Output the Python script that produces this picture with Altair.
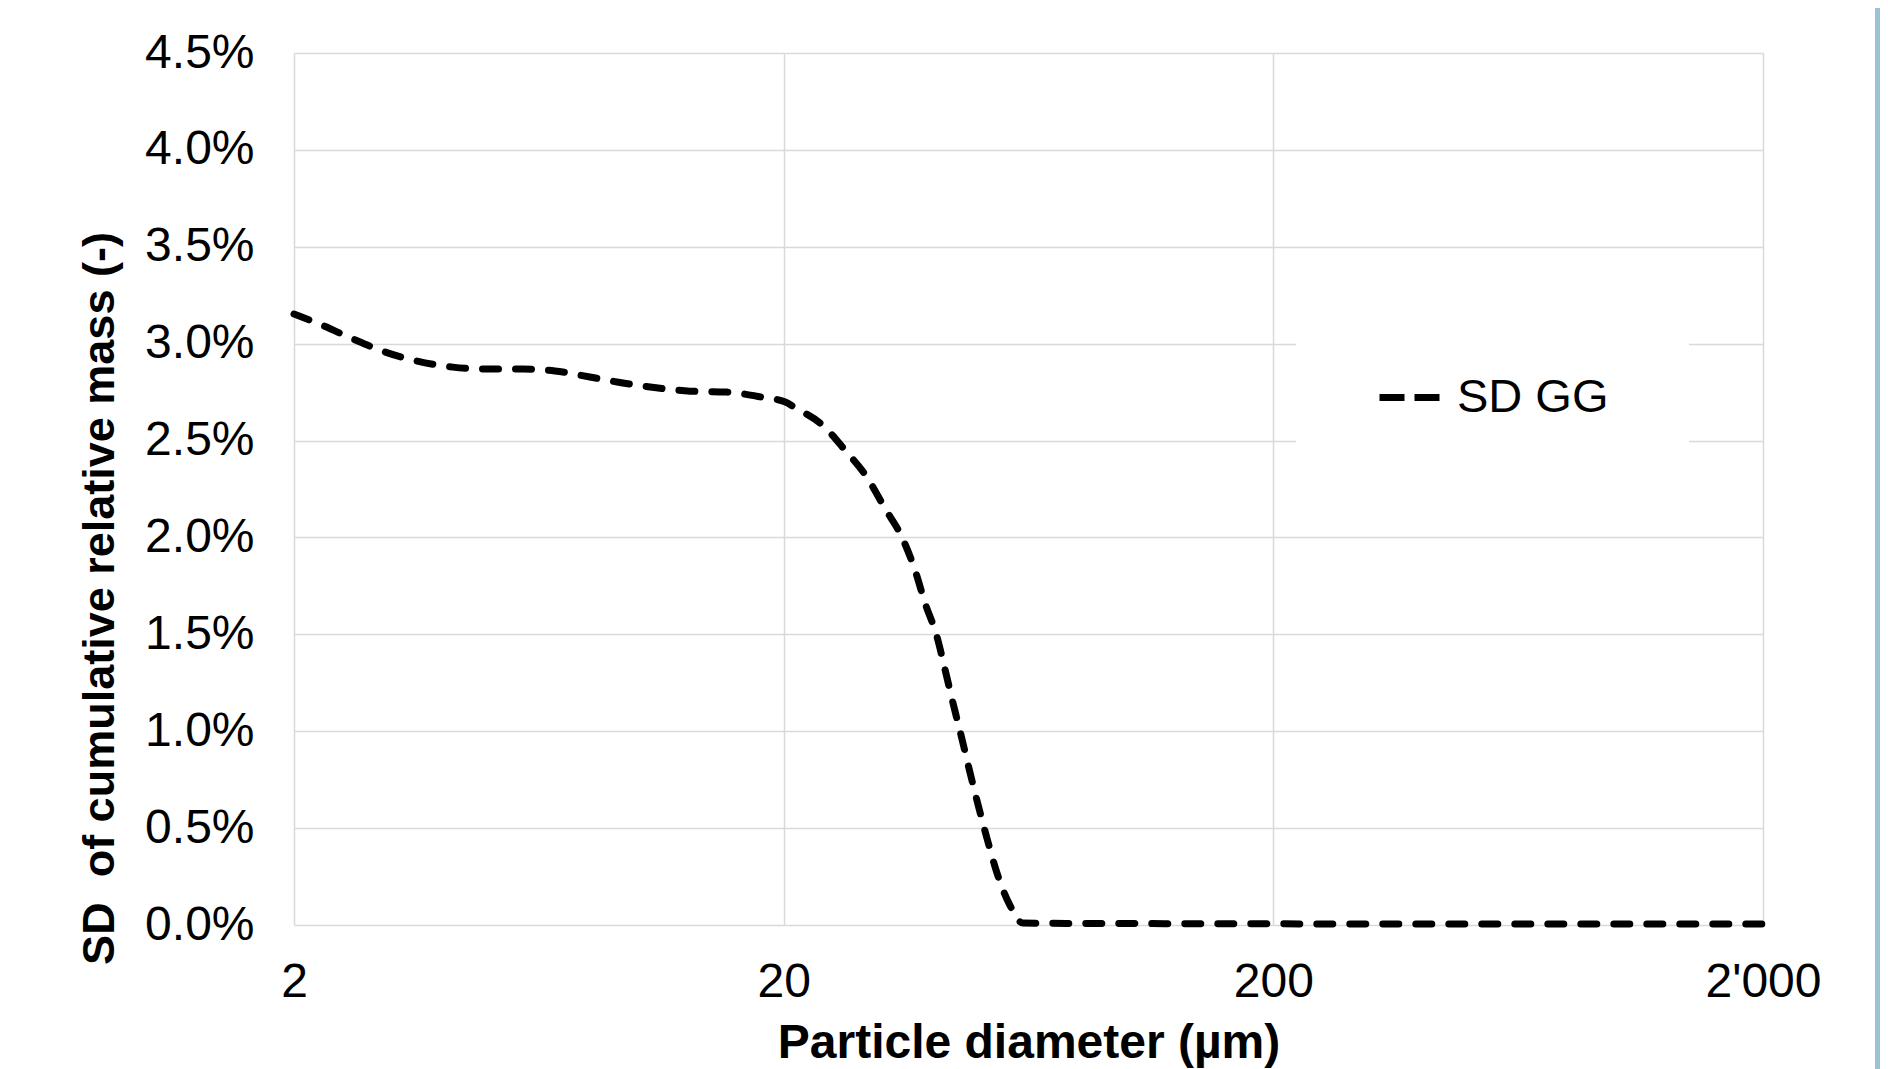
import altair as alt
import pandas as pd

# Particle diameter (µm) and SD of cumulative relative mass (%)
diameter_um = [2.0, 2.28, 2.64, 3.07, 3.57, 4.22, 4.98, 5.87, 6.82, 8.04, 9.39, 11.08,
               12.87, 15.32, 18.06, 20.1, 21.1, 24.0, 26.7, 29.6, 32.2, 34.9, 37.1,
               38.9, 41.1, 42.7, 44.3, 46.2, 48.0, 49.9, 52.0, 54.5, 58.0, 61.6,
               80.0, 120.0, 200.0, 400.0, 800.0, 2000.0]
sd_pct = [3.153, 3.096, 3.024, 2.957, 2.910, 2.879, 2.869, 2.869, 2.859, 2.828, 2.797, 2.771,
          2.755, 2.750, 2.724, 2.700, 2.670, 2.580, 2.450, 2.310, 2.150, 2.000, 1.830,
          1.660, 1.490, 1.320, 1.150, 0.965, 0.790, 0.620, 0.450, 0.270, 0.100, 0.010,
          0.008, 0.007, 0.006, 0.005, 0.005, 0.005]
series_name = "SD GG"
x_ticks = [2, 20, 200, 2000]
y_ticks_pct = [0.0, 0.5, 1.0, 1.5, 2.0, 2.5, 3.0, 3.5, 4.0, 4.5]

df = pd.DataFrame({
    "d": diameter_um,
    "sd": [v / 100 for v in sd_pct],
    "series": [series_name] * len(diameter_um),
})

FONT = "Liberation Sans"

line = alt.Chart(df).mark_line(
    strokeWidth=7, strokeDash=[16, 17], strokeCap="round", interpolate="monotone"
).encode(
    x=alt.X("d:Q",
            scale=alt.Scale(type="log", domain=[2, 2000], nice=False),
            axis=alt.Axis(values=x_ticks,
                          labelExpr="datum.value == 2000 ? \"2'000\" : format(datum.value, 'd')",
                          title="Particle diameter (µm)",
                          labelPadding=33, labelFlush=False,
                          titleFontSize=48,
                          titleY=132, titleBaseline="alphabetic")),
    y=alt.Y("sd:Q",
            scale=alt.Scale(domain=[0, 0.045], nice=False),
            axis=alt.Axis(values=[v / 100 for v in y_ticks_pct], format=".1%",
                          title="SD\u00a0\u00a0of cumulative relative mass (-)",
                          labelPadding=40, labelAlign="right",
                          titleFontSize=45,
                          titleX=-195, titleY=545, titleBaseline="middle",
                          titleAlign="center", titleAngle=270)),
    color=alt.Color("series:N",
                    scale=alt.Scale(domain=[series_name], range=["black"]),
                    legend=alt.Legend(title=None, orient="none", legendX=1002, legendY=231,
                                      fillColor="white", padding=80,
                                      symbolType="stroke", symbolSize=3600,
                                      symbolStrokeWidth=7, symbolDash=[25, 10],
                                      labelOffset=14, labelFontSize=47,
                                      labelFont=FONT, labelColor="black")),
)

border = alt.Chart(pd.DataFrame({"k": [0]})).mark_rect(color="#9CC3D5").encode(
    x=alt.value(1581), x2=alt.value(1600), y=alt.value(-60), y2=alt.value(1100)
)

chart = alt.layer(line, border).properties(
    width=1469, height=872,
    padding={"left": 286, "top": 45, "right": 117, "bottom": 144},
    autosize=alt.AutoSizeParams(type="none"),
    background="white",
).configure_view(stroke=None).configure_axis(
    labelFont=FONT, labelFontSize=48, labelColor="black",
    titleFont=FONT, titleFontSize=46, titleFontWeight="bold", titleColor="black",
    grid=True, gridColor="#d9d9d9", gridWidth=1.5,
    domain=False, ticks=False, tickSize=0,
)

chart.save("out.html", embed_options={"renderer": "svg", "actions": False})
